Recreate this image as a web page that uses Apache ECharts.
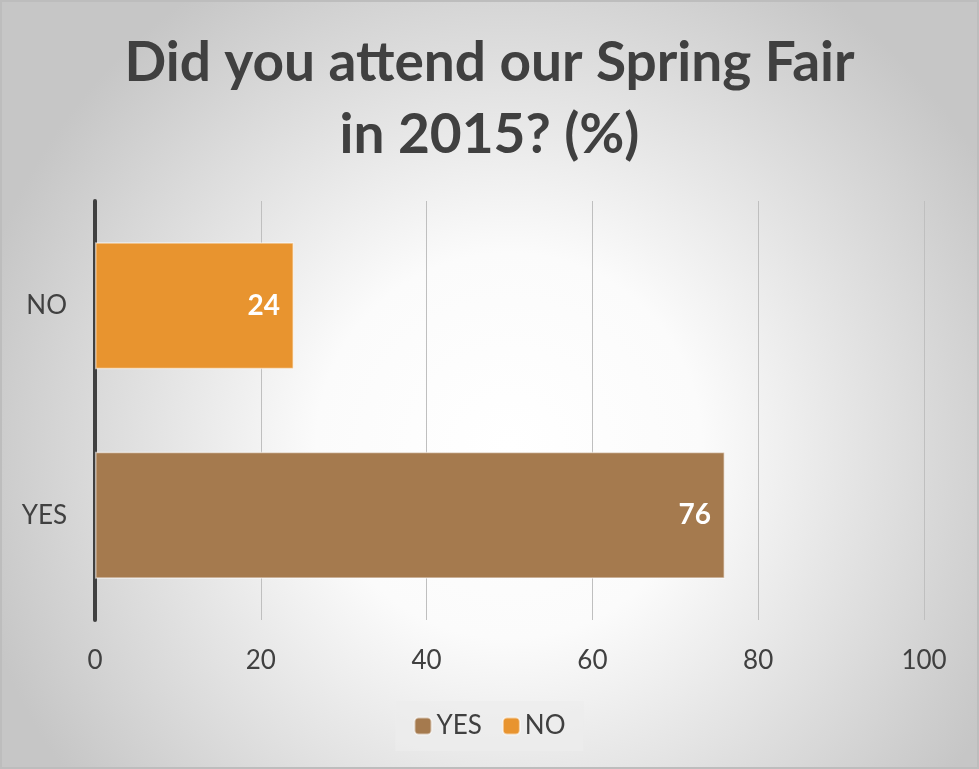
<!DOCTYPE html>
<html lang="en">
<head>
    <meta charset="utf-8">
    <title>Spring Fair</title>
    <script src="https://cdn.jsdelivr.net/npm/echarts@6/dist/echarts.min.js"></script>
    <style>
        html, body { height: 100%; margin: 0; }
        #main { width: 979px; height: 769px; box-sizing: border-box; border: 2px solid #bdbdbd; }
    </style>
</head>
<body>
    <div id="main"></div>
    <script>
        // 数据
        var categories = ['YES', 'NO'];
        var seriesNames = ['YES', 'NO'];
        var yesValues = [76, '-'];
        var noValues = ['-', 24];
        var xTicks = [0, 20, 40, 60, 80, 100];

        var myChart = echarts.init(document.getElementById('main'));

        var labelStyle = {
            show: true,
            position: 'insideRight',
            color: '#ffffff',
            fontFamily: 'Lato',
            fontWeight: 'bold',
            fontSize: 28,
            distance: 14
        };

        var option = {
            backgroundColor: {
                type: 'radial', x: 0.52, y: 0.58, r: 0.72,
                colorStops: [
                    { offset: 0, color: '#ffffff' },
                    { offset: 0.35, color: '#fbfbfb' },
                    { offset: 1, color: '#c6c6c6' }
                ]
            },
            textStyle: { fontFamily: 'Lato' },
            title: {
                text: 'Did you attend our Spring Fair\nin 2015? (%)',
                left: 'center',
                top: 20,
                textStyle: {
                    fontFamily: 'Lato',
                    fontWeight: 'bold',
                    fontSize: 55,
                    lineHeight: 72,
                    color: '#404040'
                }
            },
            legend: {
                data: seriesNames,
                bottom: 16,
                left: 'center',
                itemWidth: 17,
                itemHeight: 17,
                itemGap: 20,
                padding: [12, 18],
                backgroundColor: 'rgba(236,236,236,0.7)',
                textStyle: { fontSize: 26, color: '#404040', fontFamily: 'Lato' }
            },
            grid: {
                left: 93,
                right: 53,
                top: 199,
                bottom: 147
            },
            xAxis: {
                type: 'value',
                min: xTicks[0],
                max: xTicks[xTicks.length - 1],
                interval: 20,
                axisLine: { show: false },
                axisTick: { show: false },
                axisLabel: { fontSize: 26, color: '#404040', margin: 28 },
                splitLine: { lineStyle: { color: '#bfbfbf', width: 1 } }
            },
            yAxis: {
                type: 'category',
                data: categories,
                axisLine: { show: true, lineStyle: { color: '#404040', width: 4 } },
                axisTick: { show: false },
                axisLabel: { fontSize: 26, color: '#404040', margin: 28 }
            },
            series: [
                {
                    name: seriesNames[0],
                    type: 'bar',
                    stack: 'total',
                    barWidth: 127,
                    data: yesValues,
                    itemStyle: { color: '#a57a4e', borderColor: 'rgba(255,255,255,0.55)', borderWidth: 1.5 },
                    label: labelStyle
                },
                {
                    name: seriesNames[1],
                    type: 'bar',
                    stack: 'total',
                    barWidth: 127,
                    data: noValues,
                    itemStyle: { color: '#e8942f', borderColor: 'rgba(255,255,255,0.55)', borderWidth: 1.5 },
                    label: labelStyle
                }
            ]
        };

        myChart.setOption(option);
    </script>
</body>
</html>
